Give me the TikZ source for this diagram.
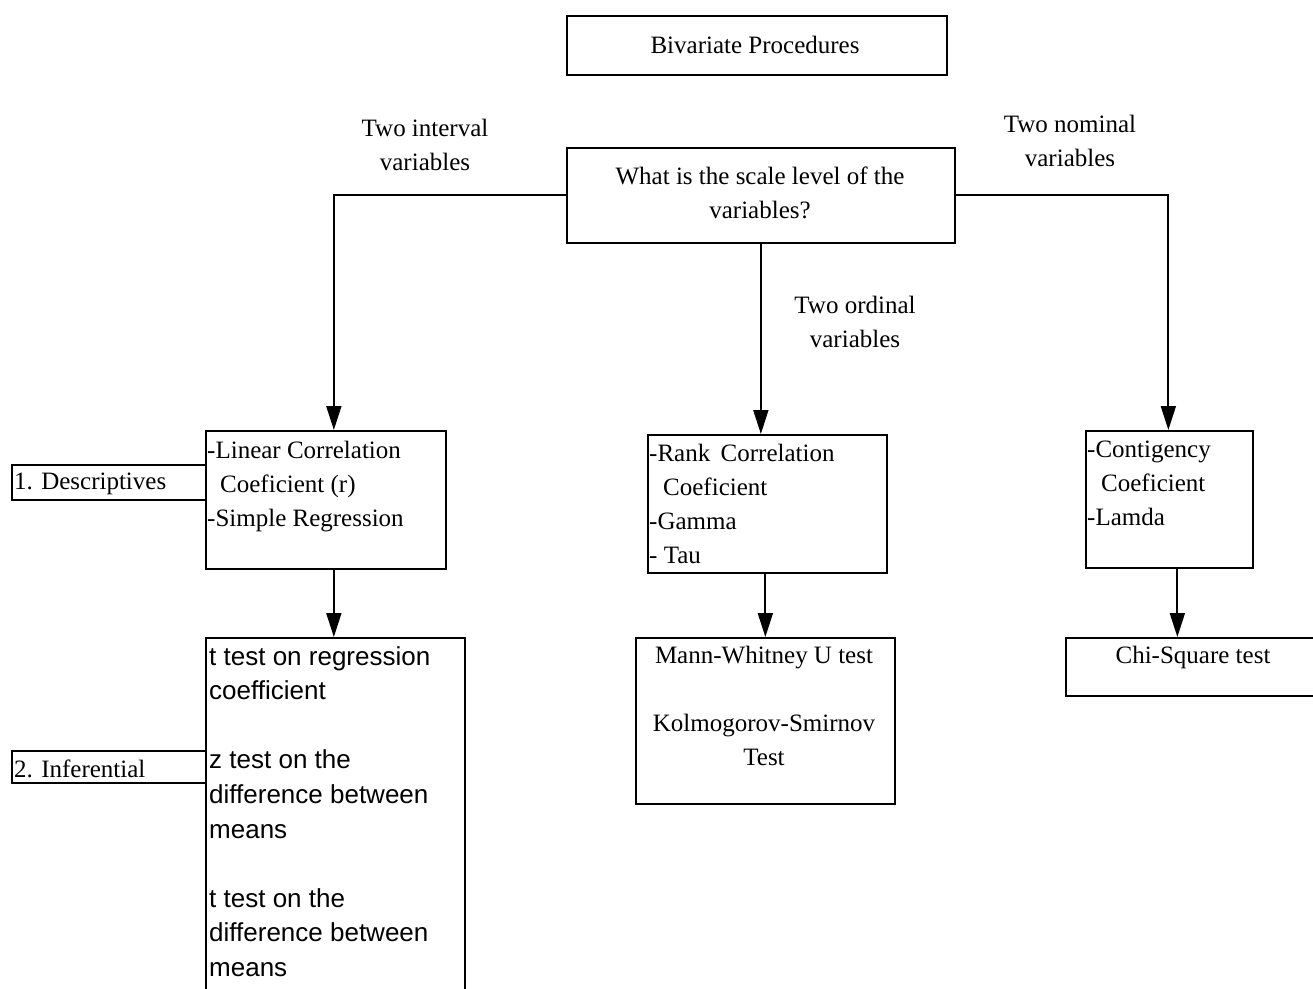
\documentclass[tikz,border=0pt]{standalone}
\usepackage{fontspec}
\setmainfont{Liberation Serif}
\newfontfamily\sansfam{Liberation Sans}
\usetikzlibrary{arrows.meta}
\begin{document}
\begin{tikzpicture}[x=1pt,y=-1pt,
  box/.style={draw,line width=1.7pt,inner sep=0pt,anchor=north west},
  serif/.style={font=\fontsize{25}{34}\selectfont,inner sep=0pt},
  sanstxt/.style={font=\sansfam\fontsize{26}{34.6}\selectfont,inner sep=0pt},
  conn/.style={line width=1.8pt,-{Triangle[length=24pt,width=15pt]}},
  plain/.style={line width=1.7pt}]
\clip (0,0) rectangle (1313,988);
\fill[white] (0,0) rectangle (1313,988);

% title and question
\node[box,minimum width=380pt,minimum height=59pt] (title) at (566,15) {};
\node[serif] (titletxt) at (755,45) {Bivariate Procedures};
\node[box,minimum width=388pt,minimum height=95pt] (q) at (566,147) {};
\node[serif,align=center] (qtxt) at (760,193) {What is the scale level of the\\variables?};

% branch labels
\node[serif,align=center] (lint) at (425,145) {Two interval\\variables};
\node[serif,align=center] (lnom) at (1070,141) {Two nominal\\variables};
\node[serif,align=center] (lord) at (855,322) {Two ordinal\\variables};

% interval branch
\node[box,minimum width=240pt,minimum height=138pt] (lc) at (205,430) {};
\node[serif,align=left,anchor=north west] (lctxt) at (207,441)
  {-Linear Correlation\\\hspace*{13pt}Coeficient (r)\\-Simple Regression};
\node[box,minimum width=259pt,minimum height=420pt] (tb) at (205,637) {};
\node[sanstxt,align=left,anchor=north west] (tbtxt) at (209,646)
  {t test on regression\\coefficient\\[34.6pt]z test on the\\difference between\\means\\[34.6pt]t test on the\\difference between\\means};

% side labels
\node[box,minimum width=194pt,minimum height=35pt] (desc) at (11,464) {};
\node[serif,anchor=west] (desctxt) at (14,484) {1. Descriptives};
\node[box,minimum width=194pt,minimum height=32pt] (infer) at (11,750) {};
\node[serif,anchor=west] (infertxt) at (14,769) {2. Inferential};

% ordinal branch
\node[box,minimum width=239pt,minimum height=138pt] (mc) at (647,434) {};
\node[serif,align=left,anchor=north west] (mctxt) at (649,444)
  {-Rank\, Correlation\\\hspace*{14pt}Coeficient\\-Gamma\\- Tau};
\node[box,minimum width=259pt,minimum height=166pt] (mt) at (635,637) {};
\node[serif,align=center,anchor=north] (mttxt) at (764,646)
  {Mann-Whitney U test\\[34pt]Kolmogorov-Smirnov\\Test};

% nominal branch
\node[box,minimum width=167pt,minimum height=137pt] (rc) at (1085,430) {};
\node[serif,align=left,anchor=north west] (rctxt) at (1087,441)
  {-Contigency\\\hspace*{14pt}Coeficient\\-Lamda};
\node[box,minimum width=270pt,minimum height=58pt] (chi) at (1065,637) {};
\node[serif] (chitxt) at (1193,657) {Chi-Square test};

% connectors
\draw[conn] (q.west) -| ([xshift=8pt]lc.north);
\draw[conn] (q.east) -| ([xshift=-1pt]rc.north);
\draw[conn] (q.south) -- (q.south |- mc.north);
\draw[conn] ([xshift=8pt]lc.south) -- ([xshift=8pt]lc.south |- tb.north);
\draw[conn] (mt.north |- mc.south) -- (mt.north);
\draw[conn] ([xshift=8pt]rc.south) -- ([xshift=8pt]rc.south |- chi.north);
\end{tikzpicture}
\end{document}
